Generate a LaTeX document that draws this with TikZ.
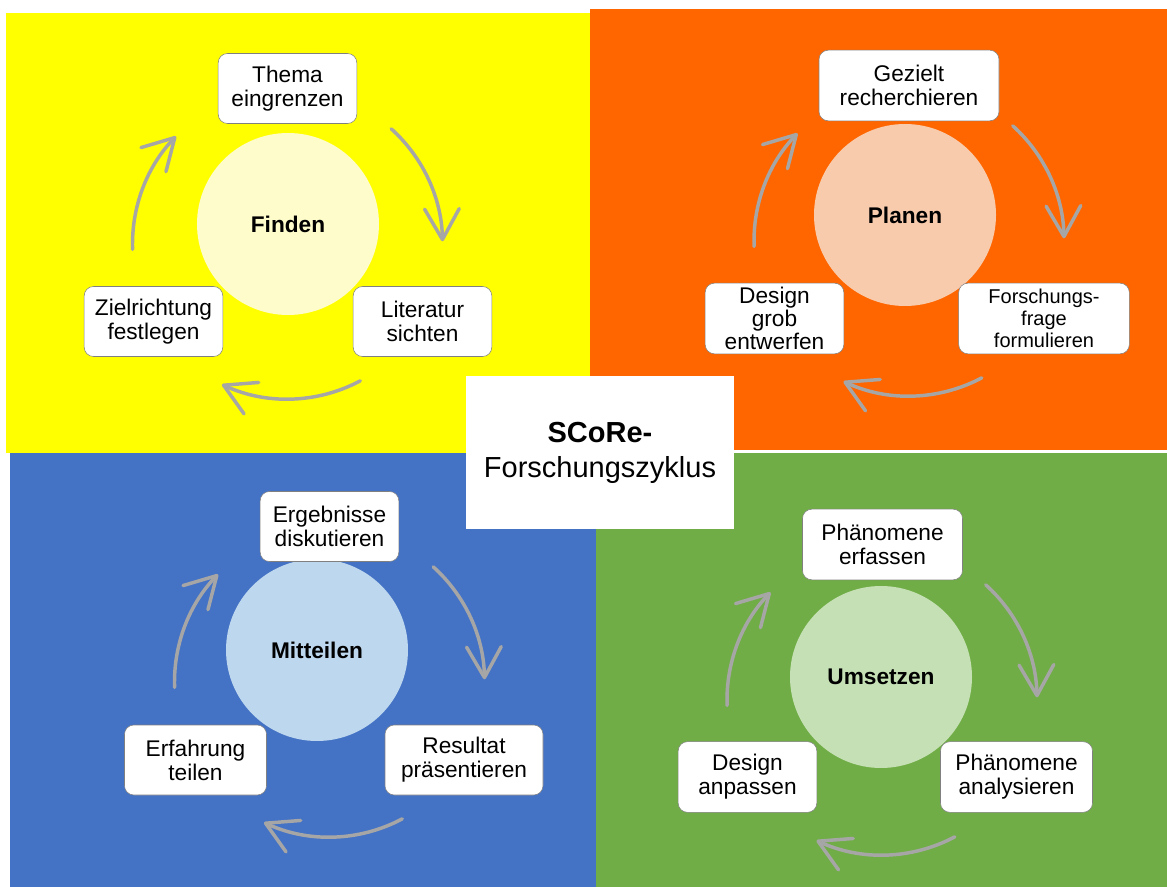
\documentclass[tikz,border=0pt]{standalone}
\usepackage{fontspec}
\setmainfont{Liberation Sans}
\usetikzlibrary{arrows.meta, calc}

\definecolor{qyellow}{HTML}{FFFF00}
\definecolor{qorange}{HTML}{FF6600}
\definecolor{qblue}{HTML}{4472C4}
\definecolor{qgreen}{HTML}{70AD47}

\begin{document}
\begin{tikzpicture}[x=0.75pt, y=0.75pt, thin]

\tikzstyle{block} = [rectangle, draw=black!50, fill=white, rounded corners=7pt, align=center, inner sep=0pt, minimum width=104pt, minimum height=52.5pt, font=\fontsize{17pt}{18pt}\selectfont]
\tikzstyle{phase} = [circle, inner sep=0pt, minimum size=136.5pt, font=\fontsize{17pt}{18pt}\selectfont\bfseries]
\tikzstyle{turn} = [draw=black!35, line width=2.6pt, line cap=round, -{Straight Barb[length=23pt, width=26pt, round]}]

\useasboundingbox (0,0) rectangle (1167,-887);

% Quadrants
\fill[qyellow] (6,-13) rectangle (590,-453);
\fill[qorange] (590,-9) rectangle (1167,-450);
\fill[qblue] (10,-453) rectangle (596,-887);
\fill[qgreen] (596,-453) rectangle (1167,-887);

% Finden
\coordinate (fc) at (287.5,-244);
\node[phase, fill=yellow!20] (finden) at (288,-224) {Finden};
\node[block] (thema) at (287.5,-88.5) {Thema\\eingrenzen};
\node[block] (literatur) at (422.5,-321.5) {Literatur\\sichten};
\node[block] (ziel) at (153.5,-321.5) {Zielrichtung\\festlegen};
\coordinate (f1) at ($(fc)+(48:155)$);
\coordinate (f2) at ($(fc)+(-62:155)$);
\coordinate (f3) at ($(fc)+(182:155)$);
\draw[turn] (f1) arc[start angle=48, end angle=1, radius=116.25pt];
\draw[turn] (f2) arc[start angle=-62, end angle=-115, radius=116.25pt];
\draw[turn] (f3) arc[start angle=182, end angle=136, radius=116.25pt];

% Planen
\coordinate (pc) at (909,-241);
\node[phase, fill={rgb,255:red,248;green,203;blue,173}] (planen) at (905,-215) {Planen};
\node[block, minimum width=135pt, minimum height=53pt] (gezielt) at (909,-85.5) {Gezielt\\recherchieren};
\node[block, minimum width=128pt, minimum height=53pt, font=\fontsize{15pt}{16.25pt}\selectfont] (frage) at (1044,-318.5) {Forschungs-\\frage\\formulieren};
\node[block, minimum height=53pt, font=\fontsize{17pt}{17.25pt}\selectfont] (grob) at (774.5,-318.5) {Design\\grob\\entwerfen};
\coordinate (p1) at ($(pc)+(48:155)$);
\coordinate (p2) at ($(pc)+(-62:155)$);
\coordinate (p3) at ($(pc)+(182:155)$);
\draw[turn] (p1) arc[start angle=48, end angle=1, radius=116.25pt];
\draw[turn] (p2) arc[start angle=-62, end angle=-115, radius=116.25pt];
\draw[turn] (p3) arc[start angle=182, end angle=136, radius=116.25pt];

% Mitteilen
\coordinate (mc) at (329.5,-682);
\node[phase, fill={rgb,255:red,189;green,215;blue,238}] (mitteilen) at (317,-650) {Mitteilen};
\node[block] (ergebnisse) at (329.5,-526.5) {Ergebnisse\\diskutieren};
\node[block, minimum width=118.5pt] (resultat) at (464,-760) {Resultat\\präsentieren};
\node[block, minimum width=106.5pt] (erfahrung) at (195.5,-760) {Erfahrung\\teilen};
\coordinate (m1) at ($(mc)+(48:155)$);
\coordinate (m2) at ($(mc)+(-62:155)$);
\coordinate (m3) at ($(mc)+(182:155)$);
\draw[turn] (m1) arc[start angle=48, end angle=1, radius=116.25pt];
\draw[turn] (m2) arc[start angle=-62, end angle=-115, radius=116.25pt];
\draw[turn] (m3) arc[start angle=182, end angle=136, radius=116.25pt];

% Umsetzen
\coordinate (uc) at (882,-700);
\node[phase, fill={rgb,255:red,197;green,224;blue,180}] (umsetzen) at (881,-677) {Umsetzen};
\node[block, minimum width=120pt, minimum height=53pt] (erfassen) at (882.5,-544.5) {Phänomene\\erfassen};
\node[block, minimum width=114pt, minimum height=53pt] (analysieren) at (1016.5,-777) {Phänomene\\analysieren};
\node[block, minimum height=53pt] (anpassen) at (747.5,-777) {Design\\anpassen};
\coordinate (u1) at ($(uc)+(48:155)$);
\coordinate (u2) at ($(uc)+(-62:155)$);
\coordinate (u3) at ($(uc)+(182:155)$);
\draw[turn] (u1) arc[start angle=48, end angle=1, radius=116.25pt];
\draw[turn] (u2) arc[start angle=-62, end angle=-115, radius=116.25pt];
\draw[turn] (u3) arc[start angle=182, end angle=136, radius=116.25pt];

% Title
\node[fill=white, align=center, minimum width=201pt, minimum height=114.75pt, font=\fontsize{21.75pt}{26.25pt}\selectfont] (title) at (600,-452.5) {\textbf{SCoRe-}\\Forschungszyklus};

\end{tikzpicture}
\end{document}
